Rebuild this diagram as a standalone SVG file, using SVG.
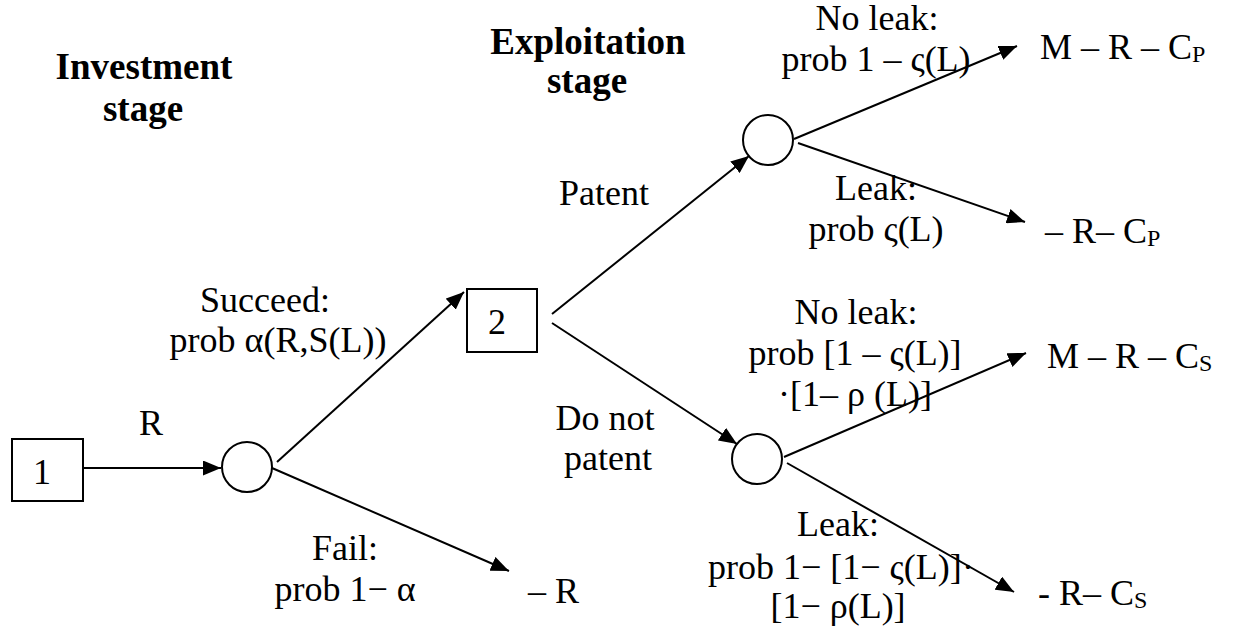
<svg xmlns="http://www.w3.org/2000/svg" width="1248" height="635" viewBox="0 0 1248 635">
<defs>
<marker id="ah" markerUnits="userSpaceOnUse" markerWidth="19" markerHeight="15" refX="18" refY="7.5" orient="auto">
<path d="M0,0 L18,7.5 L0,15 z" fill="#000"/>
</marker>
<style>
text{font-family:"Liberation Serif","Times New Roman",serif;font-size:36px;fill:#000}
.h{font-weight:bold;font-size:37px}
.c{text-anchor:middle}
.n{fill:#fff;stroke:#000;stroke-width:2}
.e{stroke:#000;stroke-width:2;fill:none}
.a{marker-end:url(#ah)}
.s{font-size:24px}
</style>
</defs>
<rect width="1248" height="635" fill="#fff"/>

<g id="headings">
<text class="h c" x="144" y="79">Investment</text>
<text class="h c" x="143" y="121">stage</text>
<text class="h c" x="588" y="54">Exploitation</text>
<text class="h c" x="587" y="93">stage</text>
</g>

<g id="connectors">
<line class="e a" x1="83" y1="468" x2="221" y2="468"/>
<line class="e a" x1="277" y1="462" x2="464" y2="292"/>
<line class="e a" x1="272" y1="468" x2="509" y2="571"/>
<line class="e a" x1="552" y1="314" x2="749" y2="156"/>
<line class="e a" x1="552" y1="323" x2="737" y2="444"/>
<line class="e a" x1="794" y1="139" x2="1017" y2="46"/>
<line class="e a" x1="798" y1="143" x2="1025" y2="222"/>
<line class="e a" x1="784" y1="457" x2="1026" y2="353"/>
<line class="e a" x1="787" y1="463" x2="1014" y2="592"/>
</g>

<g id="node1">
<rect class="n" x="12" y="439" width="71" height="62"/>
<text class="c" x="42" y="484">1</text>
</g>
<g id="chance1">
<circle class="n" cx="247" cy="467" r="25"/>
</g>
<g id="node2">
<rect class="n" x="467" y="289" width="70" height="63"/>
<text class="c" x="497" y="334">2</text>
</g>
<g id="chance2">
<circle class="n" cx="768" cy="140" r="25"/>
</g>
<g id="chance3">
<circle class="n" cx="757" cy="459" r="25"/>
</g>

<g id="labels">
<text class="c" x="151" y="435">R</text>
<text class="c" x="265" y="312">Succeed:</text>
<text class="c" x="278" y="352">prob α(R,S(L))</text>
<text class="c" x="345" y="560">Fail:</text>
<text class="c" x="345" y="601">prob 1− α</text>
<text x="528" y="603">– R</text>
<text class="c" x="604" y="205">Patent</text>
<text class="c" x="605" y="430">Do not</text>
<text class="c" x="608" y="470">patent</text>
<text class="c" x="877" y="30">No leak:</text>
<text class="c" x="876" y="71">prob 1 – ς(L)</text>
<text class="c" x="876" y="200">Leak:</text>
<text class="c" x="876" y="241">prob ς(L)</text>
<text class="c" x="856" y="324">No leak:</text>
<text class="c" x="855" y="365">prob [1 – ς(L)]</text>
<text class="c" x="855" y="406">·[1– ρ (L)]</text>
<text class="c" x="838" y="536">Leak:</text>
<text x="708" y="579">prob 1− [1− ς(L)]<tspan x="962">·</tspan></text>
<text class="c" x="838" y="618">[1− ρ(L)]</text>
</g>

<g id="payoffs">
<text x="1040" y="59">M – R – C<tspan class="s" dy="3">P</tspan></text>
<text x="1045" y="243">– R– C<tspan class="s" dy="3">P</tspan></text>
<text x="1047" y="368">M – R – C<tspan class="s" dy="3">S</tspan></text>
<text x="1038" y="605">- R– C<tspan class="s" dy="3">S</tspan></text>
</g>
</svg>
